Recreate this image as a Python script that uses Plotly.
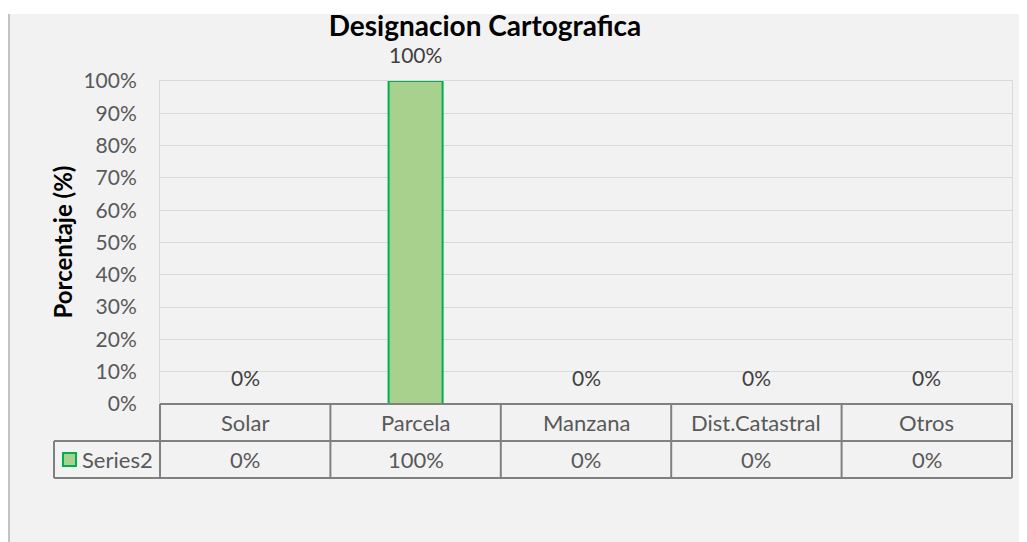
import plotly.graph_objects as go

# chart data
categories = ["Solar", "Parcela", "Manzana", "Dist.Catastral", "Otros"]
values = [0, 1, 0, 0, 0]
series_name = "Series2"
title_text = "Designacion Cartografica"
y_title = "Porcentaje (%)"

# the page adds an 8px body margin, so the figure is 8px smaller than the window
W, H = 1019, 534
OFF = 8
# plot area edges in window pixels
L, R, T, B = 160, 1012, 81, 404
FONT = "Lato, Carlito, Calibri, sans-serif"
GREY_TXT = "#595959"
TABLE_LINE = "#808080"


def px(x):
    return (x - L) / (R - L)


def py(y):
    return (B - y) / (B - T)


def pct(v):
    return f"{v * 100:.0f}%"


fig = go.Figure()
fig.add_trace(
    go.Bar(
        x=categories,
        y=values,
        name=series_name,
        width=0.317,
        marker=dict(color="#a9d18e", line=dict(color="#00b050", width=2)),
        showlegend=False,
    )
)

shapes = [
    # white band on top of the chart area and the chart area's left border
    dict(type="rect", xref="paper", yref="paper", x0=px(0), x1=px(1040),
         y0=py(14), y1=py(0), fillcolor="white", line_width=0, layer="below"),
    dict(type="line", xref="paper", yref="paper", x0=px(9), x1=px(9),
         y0=py(560), y1=py(14), line=dict(color="#c4c4c4", width=2), layer="below"),
]

# data table below the plot
row1_top, row_mid, row2_bot = py(404), py(441), py(478)
legend_left = px(54)
n = len(categories)
line = dict(color=TABLE_LINE, width=2)
shapes.append(dict(type="line", xref="x domain", yref="paper", x0=0, x1=1,
                   y0=row1_top, y1=row1_top, line=line))
for yy in (row_mid, row2_bot):
    shapes.append(dict(type="line", xref="x domain", yref="paper", x0=legend_left, x1=1,
                       y0=yy, y1=yy, line=line))
for i in range(n + 1):
    shapes.append(dict(type="line", xref="x domain", yref="paper", x0=i / n, x1=i / n,
                       y0=row1_top, y1=row2_bot, line=line))
shapes.append(dict(type="line", xref="x domain", yref="paper", x0=legend_left, x1=legend_left,
                   y0=row_mid, y1=row2_bot, line=line))
# legend key square
shapes.append(dict(type="rect", xref="paper", yref="paper", x0=px(63), x1=px(76),
                   y0=py(466), y1=py(453), fillcolor="#a9d18e",
                   line=dict(color="#00b050", width=2)))

annotations = []
# data labels above bars
for c, v in zip(categories, values):
    annotations.append(dict(x=c, y=v, xref="x", yref="y", text=pct(v), showarrow=False,
                            yanchor="bottom", yshift=12,
                            font=dict(family=FONT, size=21, color="#404040")))
# table text
cell_font = dict(family=FONT, size=22, color=GREY_TXT)
for c, v in zip(categories, values):
    annotations.append(dict(x=c, y=py(422.5), xref="x", yref="paper", text=c, showarrow=False,
                            xanchor="center", yanchor="middle", font=cell_font))
    annotations.append(dict(x=c, y=py(459.5), xref="x", yref="paper", text=pct(v), showarrow=False,
                            xanchor="center", yanchor="middle", font=cell_font))
annotations.append(dict(x=px(80), y=py(459.5), xref="paper", yref="paper", text=series_name,
                        showarrow=False, xanchor="left", yanchor="middle", font=cell_font))
# axis title
annotations.append(dict(x=px(62), y=0.5, xref="paper", yref="paper", text=f"<b>{y_title}</b>",
                        showarrow=False, textangle=-90, xanchor="center", yanchor="middle",
                        font=dict(family=FONT, size=24, color="black")))

fig.update_xaxes(showticklabels=False, showgrid=False, zeroline=False,
                 showline=True, linecolor="#d9d9d9", linewidth=1, mirror=True,
                 range=[-0.5, n - 0.5])
fig.update_yaxes(range=[0, 1], dtick=0.1, tickformat=".0%", showgrid=True,
                 gridcolor="#d9d9d9", gridwidth=1, zeroline=False,
                 showline=True, linecolor="#d9d9d9", linewidth=1, mirror=True,
                 ticks="", ticklabelstandoff=18,
                 tickfont=dict(family=FONT, size=21, color=GREY_TXT))

fig.update_layout(
    width=W,
    height=H,
    margin=dict(l=L - OFF, r=W + OFF - R, t=T - OFF, b=H + OFF - B),
    paper_bgcolor="#f2f2f2",
    plot_bgcolor="#f2f2f2",
    title=dict(text=f"<b>{title_text}</b>", x=(485 - OFF) / W, xanchor="center",
               xref="container", yref="container", y=1 - (26 - OFF) / H, yanchor="middle",
               font=dict(family=FONT, size=28, color="black")),
    shapes=shapes,
    annotations=annotations,
    showlegend=False,
)

fig.write_html("out.html")
